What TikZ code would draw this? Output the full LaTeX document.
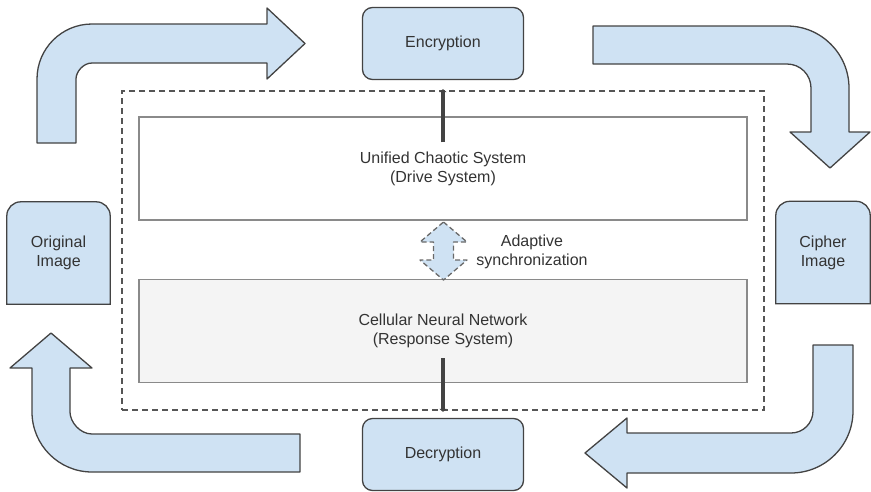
\documentclass[tikz,border=0pt]{standalone}
\usepackage{fontspec}
\setmainfont{Liberation Sans}
\usetikzlibrary{arrows.meta,backgrounds}
\definecolor{boxblue}{HTML}{CFE2F3}
\definecolor{edgegray}{HTML}{434343}
\definecolor{rulegray}{HTML}{8A8A8A}
\definecolor{textgray}{HTML}{333333}
\definecolor{panelgray}{HTML}{F4F4F4}

\begin{document}
\begin{tikzpicture}[
    x=1pt, y=-1pt,
    font=\fontsize{16}{19}\selectfont,
    text=textgray,
    every node/.style={align=center, inner sep=0pt},
    stage/.style={draw=edgegray, line width=1.3pt, fill=boxblue, rounded corners=10pt, minimum width=161pt, minimum height=72pt},
    imgbox/.style={minimum width=#1, minimum height=102pt},
    imgshape/.style={draw=edgegray, line width=1.3pt, fill=boxblue},
    panel/.style={draw=rulegray, line width=1.2pt, minimum width=608pt, minimum height=103pt},
    frame/.style={draw=edgegray!90, dash pattern=on 6pt off 4pt, line width=1.4pt, minimum width=642pt, minimum height=319pt},
    bentarrow/.style={draw=edgegray, line width=1.3pt, fill=boxblue, line join=round},
    link/.style={line width=4.5pt, draw=edgegray, -{Triangle[width=7pt,length=3pt]}},
    syncarrow/.style={draw=edgegray!80, dash pattern=on 5pt off 3pt, line width=1.3pt, fill=boxblue, line join=round}
]
\useasboundingbox (0,0) rectangle (871,491);

% dashed frame and the two systems
\node[frame] (frame) at (443,250.5) {};
\node[panel] (drive) at (443,168.5) {Unified Chaotic System\\(Drive System)};
\node[panel, fill=panelgray] (resp) at (443,331) {Cellular Neural Network\\(Response System)};

% stages
\node[stage] (enc) at (443,43.5) {Encryption};
\node[stage] (dec) at (443,454.5) {Decryption};
\node[imgbox=103pt] (orig) at (58.5,253) {Original\\Image};
\node[imgbox=94pt] (ciph) at (823,252.5) {Cipher\\Image};

\begin{scope}[on background layer]
  \foreach \n in {orig, ciph}
    \draw[imgshape] (\n.south west) -- ([yshift=-14pt]\n.north west)
      arc[start angle=180, end angle=90, radius=14pt]
      -- ([xshift=-14pt]\n.north east)
      arc[start angle=90, end angle=0, radius=14pt]
      -- (\n.south east) -- cycle;
\end{scope}

% links into the systems
\draw[link, shorten <=-26pt, shorten >=9pt] (drive) -- (enc);
\draw[link, shorten <=-25pt, shorten >=6pt] (resp) -- (dec);

% adaptive synchronization
\coordinate (sync) at (443.5,251);
\draw[syncarrow] (sync) ++(0,-29) -- ++(23.5,20) -- ++(-13.5,0) -- ++(0,18)
  -- ++(13.5,0) -- ++(-23.5,20) -- ++(-23.5,-20) -- ++(13.5,0) -- ++(0,-18)
  -- ++(-13.5,0) -- cycle;
\node (synclabel) at (532,252) {Adaptive\\synchronization};

% bent block arrows
\draw[bentarrow] (37,143) -- (37,79) .. controls (37,48.6) and (61.6,24) .. (92,24)
  -- (267,24) -- (267,8) -- (305,43.5) -- (267,79) -- (267,63) -- (92,63)
  .. controls (83.2,63) and (76,71.8) .. (76,79) -- (76,143) -- cycle;
\draw[bentarrow] (593,26) -- (787,26) .. controls (821.2,26) and (849,53.8) .. (849,88)
  -- (849,132) -- (870,132) -- (830,168) -- (790,132) -- (811,132) -- (811,88)
  .. controls (811,74.7) and (800.3,64) .. (787,64) -- (593,64) -- cycle;
\draw[bentarrow] (813,345) -- (853,345) -- (853,411) .. controls (853,445.2) and (825.2,473) .. (791,473)
  -- (627,473) -- (627,488) -- (585,453) -- (627,418) -- (627,433) -- (791,433)
  .. controls (803.2,433) and (813,423.2) .. (813,411) -- cycle;
\draw[bentarrow] (300,434) -- (92,434) .. controls (79.8,434) and (70,421.8) .. (70,412)
  -- (70,368) -- (92,368) -- (51,333) -- (10,368) -- (32,368) -- (32,412)
  .. controls (32,445.1) and (58.9,472) .. (92,472) -- (300,472) -- cycle;
\end{tikzpicture}
\end{document}
